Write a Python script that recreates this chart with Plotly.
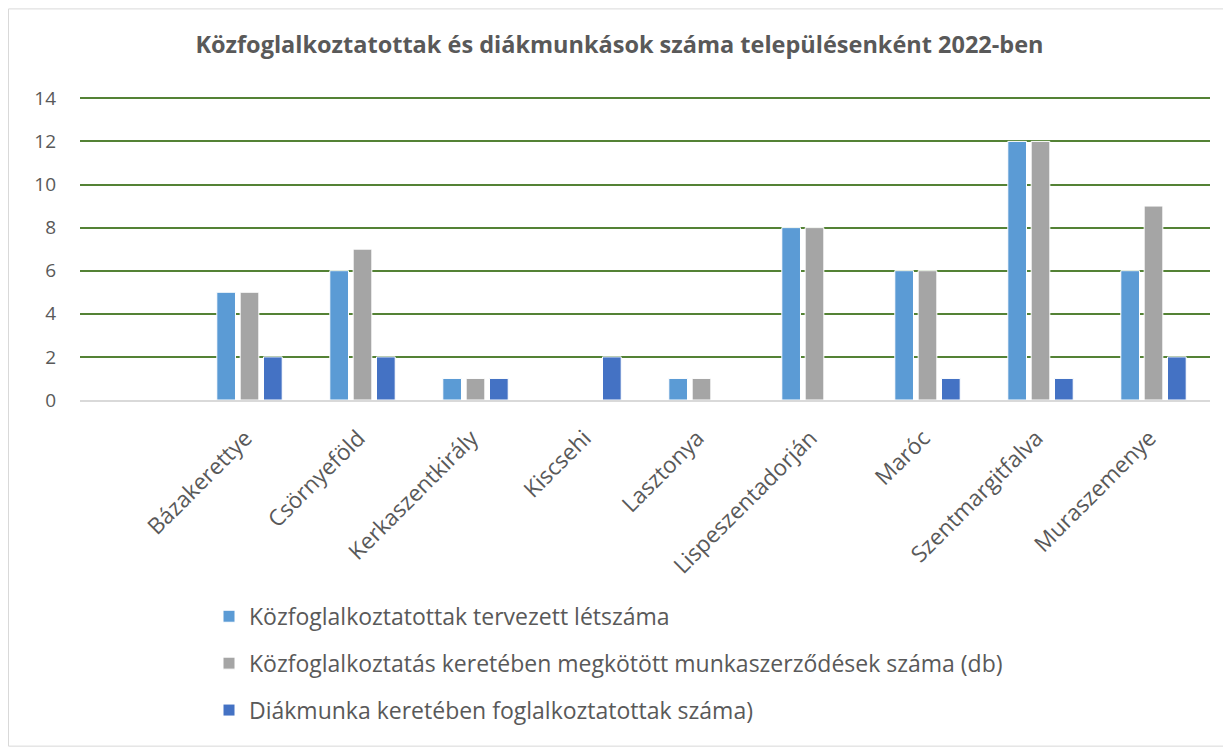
import plotly.graph_objects as go

categories = [" ", "Bázakerettye", "Csörnyeföld", "Kerkaszentkirály", "Kiscsehi", "Lasztonya",
              "Lispeszentadorján", "Maróc", "Szentmargitfalva", "Muraszemenye"]
planned = [None, 5, 6, 1, None, 1, 8, 6, 12, 6]
contracts = [None, 5, 7, 1, None, 1, 8, 6, 12, 9]
students = [None, 2, 2, 1, 2, None, None, 1, 1, 2]
series_names = ["Közfoglalkoztatottak tervezett létszáma",
                "Közfoglalkoztatás keretében megkötött munkaszerződések száma (db)",
                "Diákmunka keretében foglalkoztatottak száma)"]
colors = ["#5B9BD5", "#A5A5A5", "#4472C4"]
title = "Közfoglalkoztatottak és diákmunkások száma településenként 2022-ben"

FONT = "Open Sans"
W, H = 1223, 739
YMAX = 14.2
PLOT_BOTTOM = 392.0
PX_PER_UNIT = (392.0 - 90.0) / 14
L, R = 72, 21
T = PLOT_BOTTOM - YMAX * PX_PER_UNIT
B = H - PLOT_BOTTOM
PW, PH = W - L - R, PLOT_BOTTOM - T

fig = go.Figure()
for i, (name, vals) in enumerate(zip(series_names, [planned, contracts, students])):
    fig.add_trace(go.Bar(x=categories, y=vals, name=name, legendgroup=f"g{i}",
                         marker=dict(color=colors[i], line=dict(color="white", width=1))))

fig.update_layout(
    width=W, height=H,
    margin=dict(l=L, r=R, t=T, b=B, autoexpand=False),
    paper_bgcolor="white", plot_bgcolor="white",
    bargap=0.38, bargroupgap=0.2,
    font=dict(family=FONT, color="#595959", size=19),
    title=dict(text="<b>" + title + "</b>", x=0.5, xanchor="center", y=1 - 37 / H, yanchor="middle",
               font=dict(family=FONT, size=23.5, color="#595959")),
    legend=dict(x=(201 - L) / PW, xanchor="left", y=(PLOT_BOTTOM - 587) / PH, yanchor="top",
                orientation="v", tracegroupgap=14,
                font=dict(family=FONT, size=23, color="#595959"), itemwidth=30),
    showlegend=True,
)
fig.update_yaxes(range=[0, YMAX], tickvals=[0, 2, 4, 6, 8, 10, 12, 14], showgrid=True,
                 gridcolor="#548235", gridwidth=2,
                 zeroline=False, showline=False, ticks="", ticklabelstandoff=23,
                 tickfont=dict(size=19, color="#595959"))
fig.update_xaxes(showline=True, linecolor="#D9D9D9", linewidth=2, tickangle=-45, ticks="",
                 ticklabelstandoff=14, ticklabelshift=-4,
                 tickfont=dict(size=22.5, color="#595959"), automargin=False)
fig.add_shape(type="rect", xref="paper", yref="paper",
              x0=(-L + 0.5) / PW, x1=(W - L - 0.5) / PW,
              y0=(-B + 0.5) / PH, y1=1 + (T - 0.5) / PH,
              line=dict(color="#D9D9D9", width=1), fillcolor="rgba(0,0,0,0)", layer="below")
fig.write_html("out.html")
